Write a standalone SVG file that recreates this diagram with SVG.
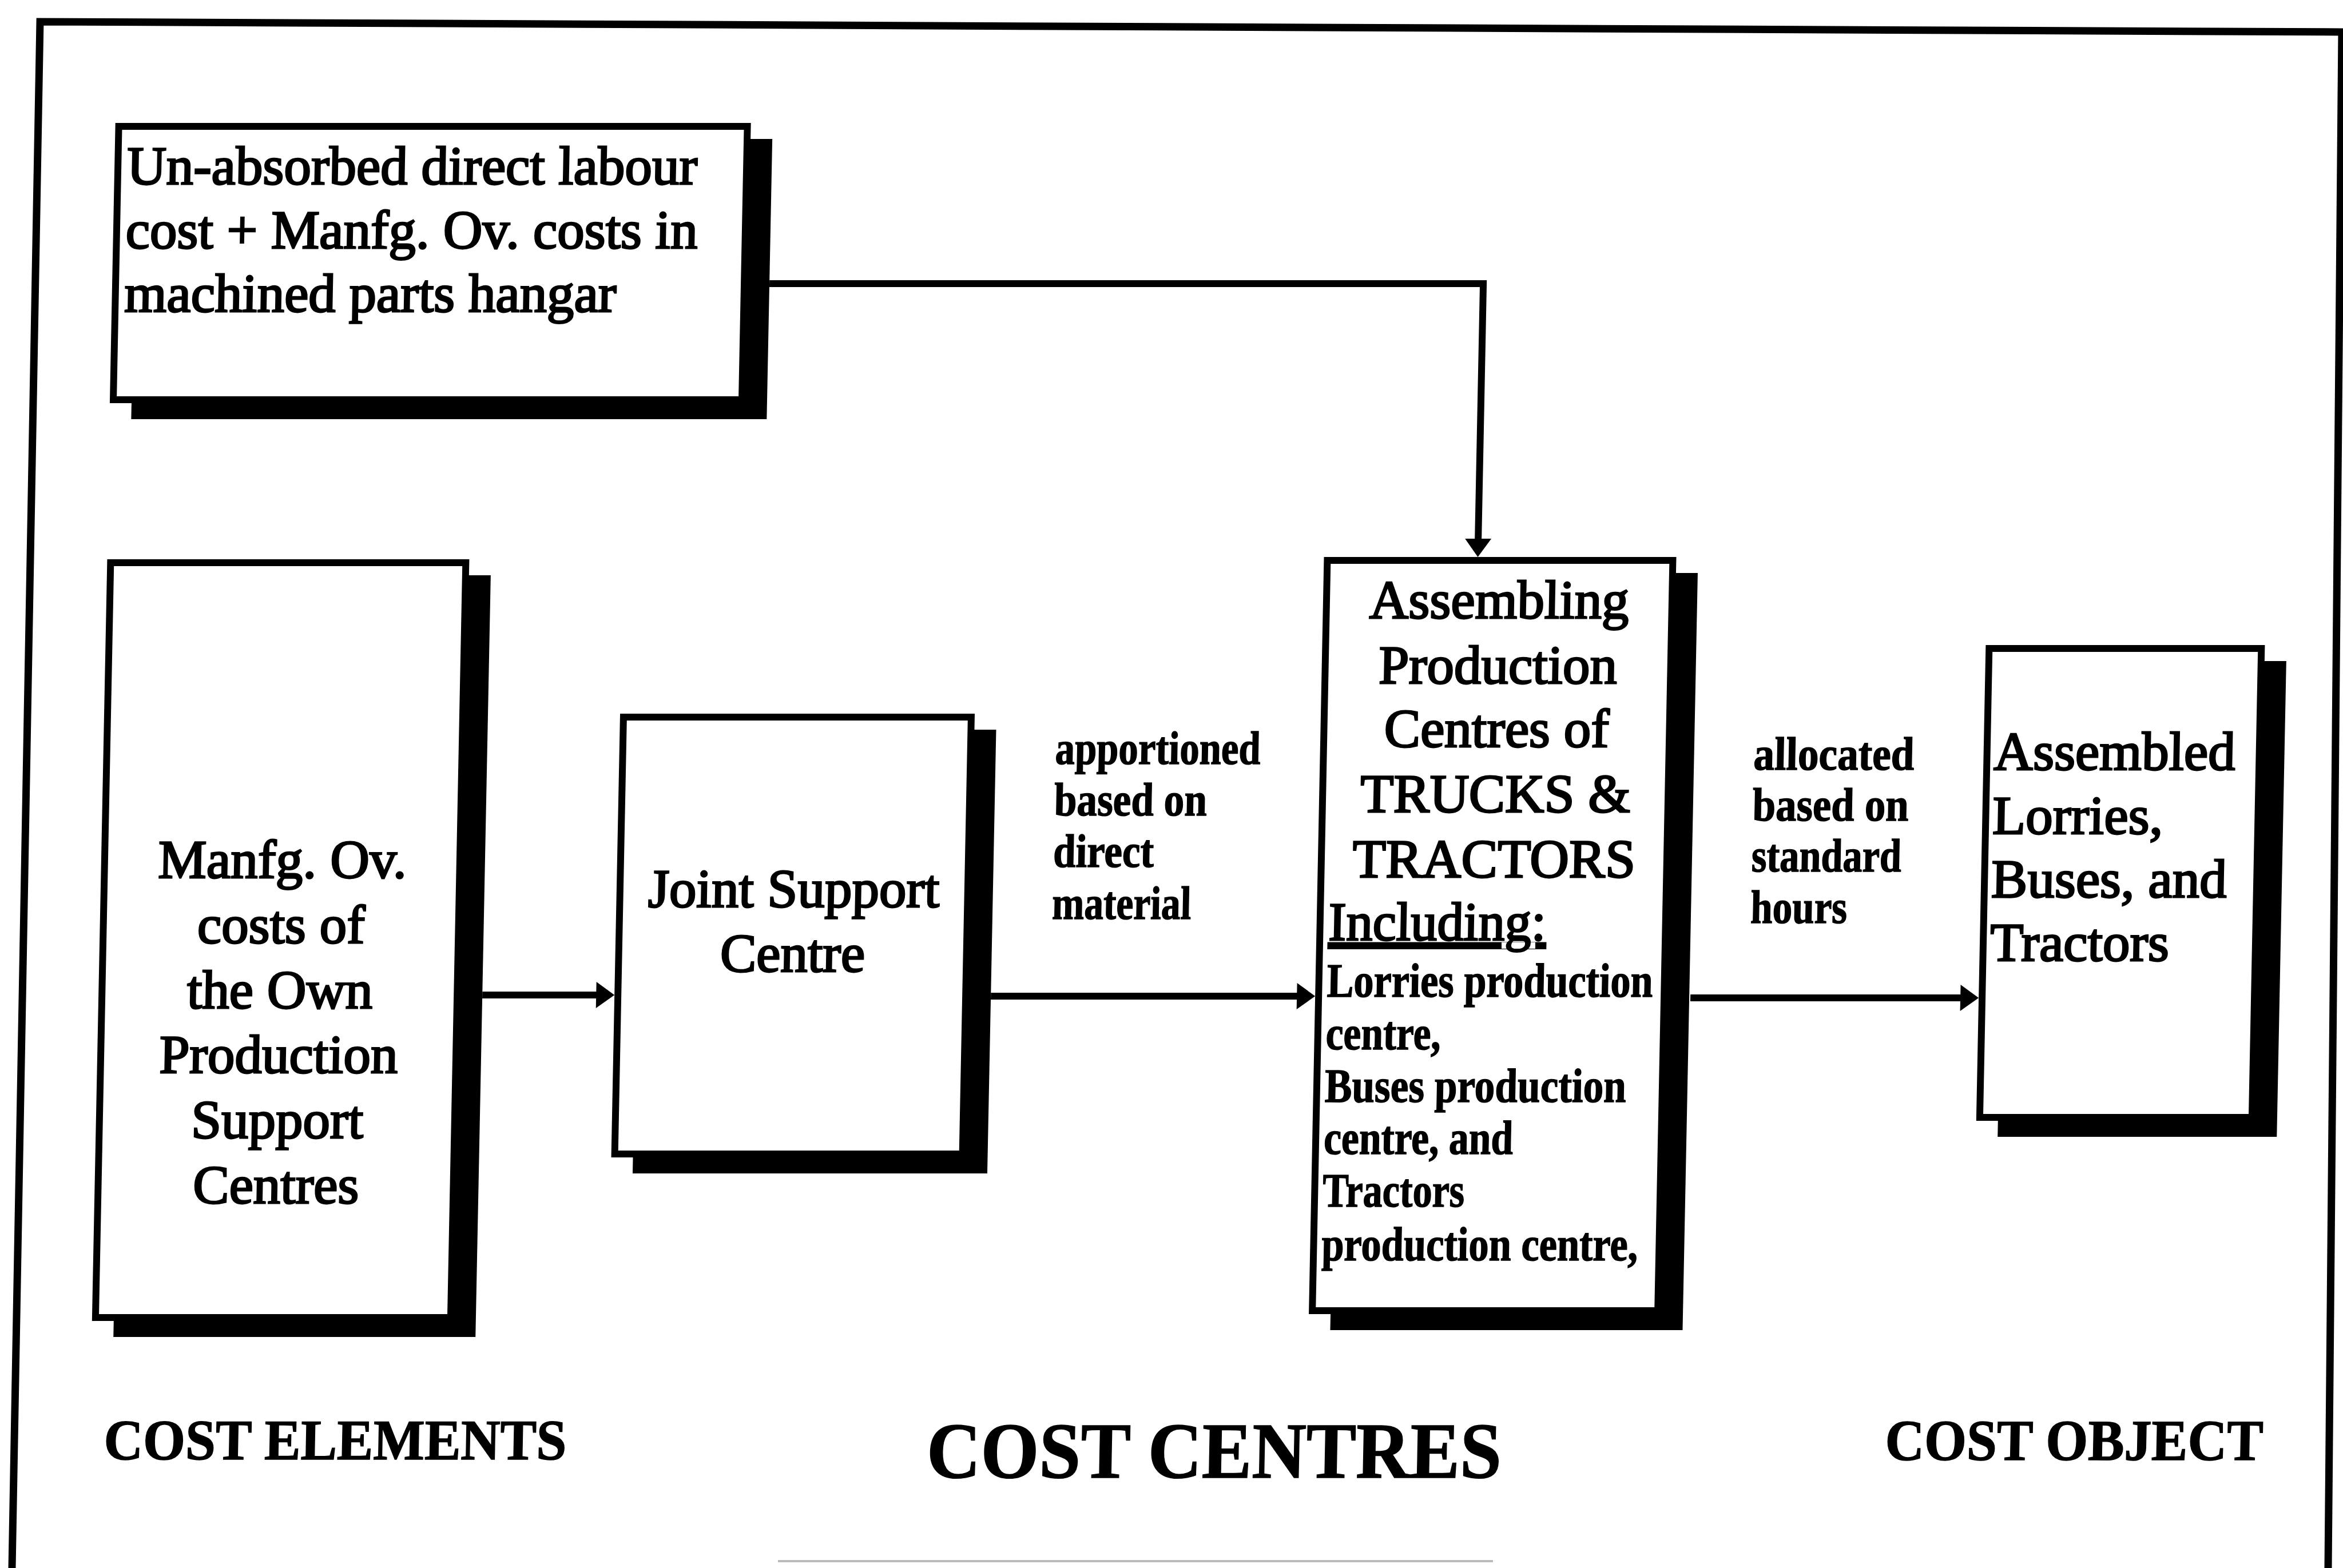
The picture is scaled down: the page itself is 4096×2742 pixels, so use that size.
<svg xmlns="http://www.w3.org/2000/svg" width="4096" height="2742" viewBox="0 0 4096 2742">
<defs>
<style>
.box{fill:#fff;stroke:#000;stroke-width:12}
.shadow{fill:#000}
.t{font-family:"Liberation Serif","Times New Roman",serif;font-size:95px;fill:#000;stroke:#000;stroke-width:3}
.c{text-anchor:middle}
.s{font-family:"Liberation Serif","Times New Roman",serif;font-weight:bold;font-size:84px;fill:#000;stroke:#000;stroke-width:1.5}
.lab{font-family:"Liberation Serif","Times New Roman",serif;font-weight:bold;font-size:82px;fill:#000;stroke:#000;stroke-width:1.5}
.cap{font-family:"Liberation Serif","Times New Roman",serif;font-weight:bold;fill:#000;stroke:#000;stroke-width:1.5}
.conn{fill:none;stroke:#000;stroke-width:12}
.frame{fill:none;stroke:#000;stroke-width:13}
</style>
<marker id="ah" markerUnits="userSpaceOnUse" viewBox="-2 -25 36 50" refX="2" refY="0" markerWidth="36" markerHeight="50" orient="auto">
<path d="M0,-23 L32,0 L0,23 Z" fill="#000"/>
</marker>
</defs>
<rect x="0" y="0" width="4096" height="2742" fill="#fff"/>
<g id="frame">
<path class="frame" d="M4096,56 L70,38 L21,2742"/>
<path class="frame" d="M4094,56 L4070,2742"/>
<line x1="1360" y1="2730" x2="2610" y2="2730" stroke="#bbb" stroke-width="4"/>
</g>
<g transform="skewX(-1.1458)">
<g id="connectors">
<path class="conn" d="M1355,496 H2603 V944" marker-end="url(#ah)"/>
<path class="conn" d="M878,1740 H1079" marker-end="url(#ah)"/>
<path class="conn" d="M1767,1742 H2304" marker-end="url(#ah)"/>
<path class="conn" d="M2990,1745 H3464" marker-end="url(#ah)"/>
</g>
<g id="n1">
<rect class="shadow" x="244" y="243" width="1111" height="490"/>
<rect class="box" x="212" y="221" width="1099" height="478"/>
<text class="t" x="228" y="322">Un-absorbed direct labour</text>
<text class="t" x="228" y="434">cost + Manfg. Ov. costs in</text>
<text class="t" x="228" y="545">machined parts hangar</text>
</g>
<g id="n2">
<rect class="shadow" x="245" y="1006" width="633" height="1332"/>
<rect class="box" x="213" y="984" width="621" height="1320"/>
<text class="t c" x="524" y="1535">Manfg. Ov.</text>
<text class="t c" x="524" y="1649">costs of</text>
<text class="t c" x="524" y="1763">the Own</text>
<text class="t c" x="524" y="1876">Production</text>
<text class="t c" x="524" y="1990">Support</text>
<text class="t c" x="524" y="2104">Centres</text>
</g>
<g id="n3">
<rect class="shadow" x="1147" y="1276" width="620" height="776"/>
<rect class="box" x="1115" y="1254" width="608" height="764"/>
<text class="t c" x="1419" y="1586">Joint Support</text>
<text class="t c" x="1419" y="1699">Centre</text>
</g>
<g id="label1">
<text class="lab" x="1871" y="1336" textLength="359" lengthAdjust="spacingAndGlyphs">apportioned</text>
<text class="lab" x="1871" y="1426" textLength="267" lengthAdjust="spacingAndGlyphs">based on</text>
<text class="lab" x="1871" y="1516" textLength="176" lengthAdjust="spacingAndGlyphs">direct</text>
<text class="lab" x="1871" y="1607" textLength="243" lengthAdjust="spacingAndGlyphs">material</text>
</g>
<g id="n4">
<rect class="shadow" x="2372" y="1002" width="616" height="1324"/>
<rect class="box" x="2340" y="980" width="604" height="1312"/>
<text class="t c" x="2642" y="1081">Assembling</text>
<text class="t c" x="2642" y="1195">Production</text>
<text class="t c" x="2642" y="1306">Centres of</text>
<text class="t c" x="2642" y="1420">TRUCKS &amp;</text>
<text class="t c" x="2642" y="1534">TRACTORS</text>
<text class="t" x="2355" y="1644" text-decoration="underline" textLength="380" lengthAdjust="spacingAndGlyphs">Including:</text>
<text class="s" x="2354" y="1743" textLength="570" lengthAdjust="spacingAndGlyphs">Lorries production</text>
<text class="s" x="2354" y="1835" textLength="201" lengthAdjust="spacingAndGlyphs">centre,</text>
<text class="s" x="2354" y="1927" textLength="527" lengthAdjust="spacingAndGlyphs">Buses production</text>
<text class="s" x="2354" y="2018" textLength="331" lengthAdjust="spacingAndGlyphs">centre, and</text>
<text class="s" x="2354" y="2110" textLength="248" lengthAdjust="spacingAndGlyphs">Tractors</text>
<text class="s" x="2354" y="2204" textLength="553" lengthAdjust="spacingAndGlyphs">production centre,</text>
</g>
<g id="label2">
<text class="lab" x="3092" y="1346" textLength="281" lengthAdjust="spacingAndGlyphs">allocated</text>
<text class="lab" x="3092" y="1435" textLength="273" lengthAdjust="spacingAndGlyphs">based on</text>
<text class="lab" x="3092" y="1524" textLength="262" lengthAdjust="spacingAndGlyphs">standard</text>
<text class="lab" x="3092" y="1614" textLength="169" lengthAdjust="spacingAndGlyphs">hours</text>
</g>
<g id="n5">
<rect class="shadow" x="3532" y="1156" width="488" height="832"/>
<rect class="box" x="3500" y="1134" width="476" height="820"/>
<text class="t" x="3512" y="1346">Assembled</text>
<text class="t" x="3512" y="1458">Lorries,</text>
<text class="t" x="3512" y="1569">Buses, and</text>
<text class="t" x="3512" y="1680">Tractors</text>
</g>
<g id="captions">
<text class="cap" x="232" y="2552" font-size="100" textLength="809" lengthAdjust="spacingAndGlyphs">COST ELEMENTS</text>
<text class="cap" x="1671" y="2584" font-size="139" textLength="1005" lengthAdjust="spacingAndGlyphs">COST CENTRES</text>
<text class="cap" x="3346" y="2553" font-size="101" textLength="661" lengthAdjust="spacingAndGlyphs">COST OBJECT</text>
</g>
</g>
</svg>
